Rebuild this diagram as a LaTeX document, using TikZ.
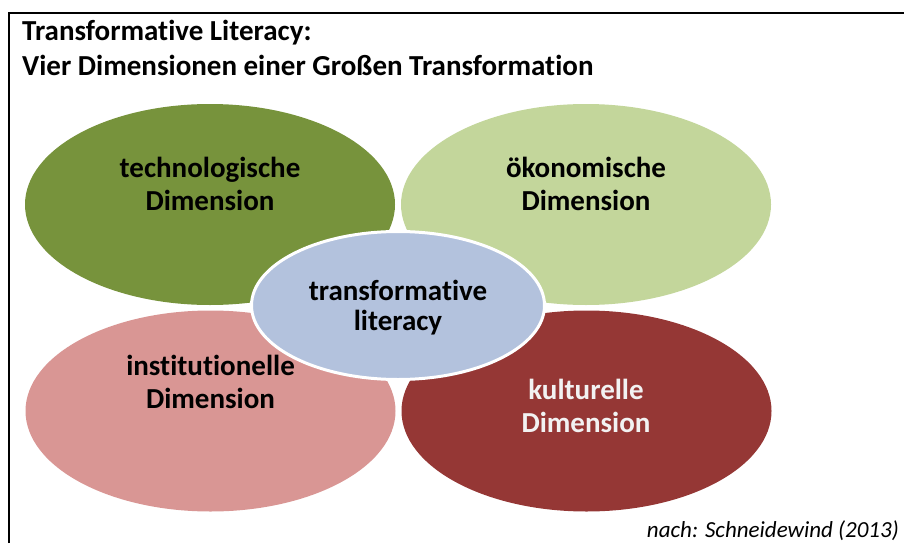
\documentclass[tikz,border=0pt]{standalone}
\usepackage{fontspec}
\setmainfont[Ligatures=NoCommon]{Carlito}
\usetikzlibrary{shapes.geometric}
\definecolor{techgreen}{HTML}{77933C}
\definecolor{oekogreen}{HTML}{C3D69B}
\definecolor{instrose}{HTML}{D99694}
\definecolor{kultred}{HTML}{953735}
\definecolor{litblue}{HTML}{B3C2DD}
\newcommand*{\picW}{904}
\newcommand*{\picH}{543}

\begin{document}
\begin{tikzpicture}[x=1pt,y=-1pt,
	dim/.style={ellipse,fill=#1,minimum width=370pt,minimum height=201pt,inner sep=0pt},
	lbl/.style={font=\bfseries\fontsize{29}{33}\selectfont,align=center,anchor=base,inner sep=0pt}]
	\useasboundingbox (0,0) rectangle (\picW,\picH);
	\draw[line width=2pt] (9,\picH) -- (9,13) -- (\picW,13);
	\node[font=\bfseries\fontsize{29}{35}\selectfont,align=left,anchor=base west,inner sep=0pt] (title) at (22,75)
		{Transformative Literacy:\\Vier Dimensionen einer Großen Transformation};
	% outer dimensions
	\foreach \n/\x/\y/\c in {tech/210/204.5/techgreen,oeko/586/204.5/oekogreen,inst/210.5/411/instrose,kult/586.5/411/kultred}
		\node[dim=\c] (\n) at (\x,\y) {};
	\node[lbl] (tech-l) at (210,210) {technologische\\Dimension};
	\node[lbl] (oeko-l) at (586,210) {ökonomische\\Dimension};
	\node[lbl] (inst-l) at (210.5,408) {institutionelle\\Dimension};
	\node[lbl,text=white!95!black] (kult-l) at (586,432) {kulturelle\\Dimension};
	% centre
	\node[ellipse,fill=litblue,draw=white,line width=3pt,minimum width=293pt,minimum height=148pt,inner sep=0pt] (lit) at (398,305.5) {};
	\node[lbl,font=\bfseries\fontsize{29}{30}\selectfont] (lit-l) at (398,330) {transformative\\literacy};
	\node[font=\itshape\fontsize{23}{28}\selectfont,anchor=base east,inner sep=0pt] (src) at (899,537) {nach: Schneidewind (2013)};
\end{tikzpicture}
\end{document}
